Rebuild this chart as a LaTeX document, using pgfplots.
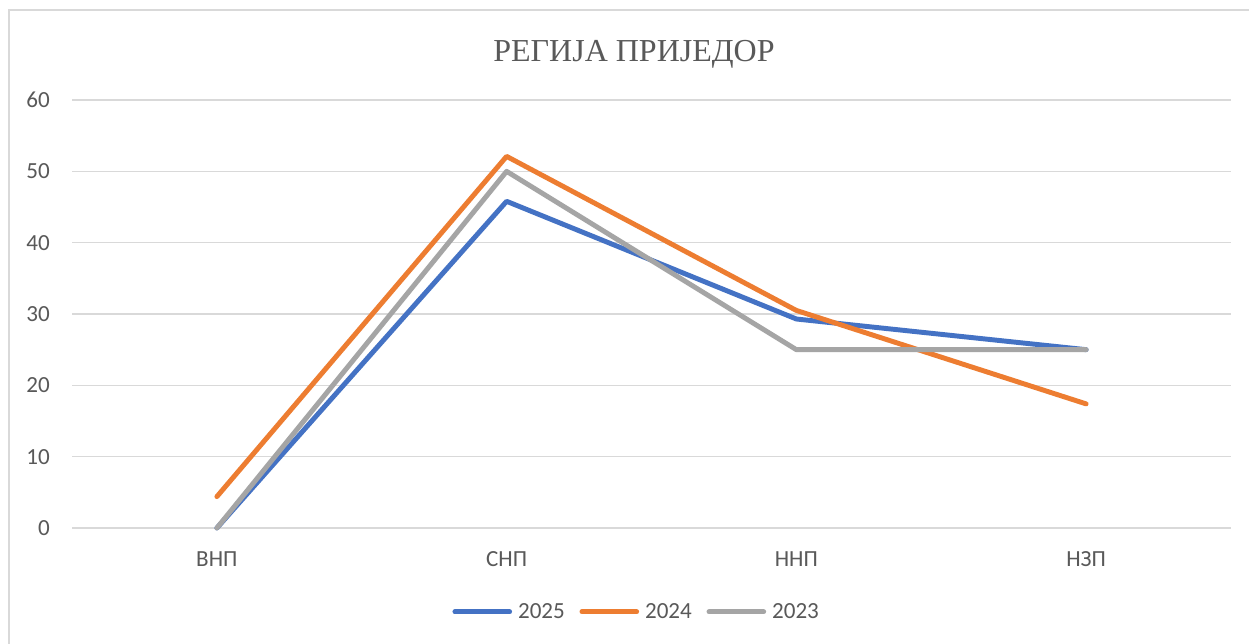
\documentclass[border=0pt]{standalone}
\usepackage{pgfplots}
\pgfplotsset{compat=1.18}
\usepackage{fontspec}
\setmainfont{Carlito}
\newfontfamily\titlefont{Liberation Serif}
\definecolor{cblue}{HTML}{4472C4}
\definecolor{corange}{HTML}{ED7D31}
\definecolor{cgray}{HTML}{A5A5A5}
\definecolor{cgrid}{HTML}{D9D9D9}
\definecolor{ctext}{HTML}{595959}
\begin{document}
\begin{tikzpicture}
\begin{scope}[x=0.75pt,y=-0.75pt]
\useasboundingbox (0,0) rectangle (1249,643);
\clip (0,0) rectangle (1249,643);
\fill[white] (0,0) rectangle (1249,643);
\draw[cgrid, line width=1.2pt] (9,700) -- (9,10) -- (1300,10);
\node[anchor=base, text=ctext, font=\titlefont\fontsize{24}{28}\selectfont] at (634,61.5) {РЕГИЈА ПРИЈЕДОР};
\end{scope}
\begin{axis}[
  at={(54pt,-396pt)}, anchor=south west,
  scale only axis,
  width=869.25pt, height=321pt,
  xmin=-0.5, xmax=3.5, ymin=0, ymax=60,
  xtick={0,1,2,3},
  xticklabels={ВНП,СНП,ННП,НЗП},
  ytick={0,10,20,30,40,50,60},
  ymajorgrids,
  grid style={cgrid, line width=1.1pt},
  axis line style={draw=none},
  major tick length=0pt,
  tick style={draw=none},
  ticklabel style={font=\fontsize{17.3}{21}\selectfont, text=ctext, inner sep=0pt},
  /pgf/number format/assume math mode=true,
  yticklabel style={anchor=east, xshift=-16.5pt},
  xticklabel style={anchor=north, yshift=-17.3pt},
  clip=false,
  legend columns=3,
  legend style={at={(0.4875,-0.196)}, anchor=center, draw=none, fill=none,
    font=\fontsize{17.3}{21}\selectfont, text=ctext,
    /tikz/every even column/.append style={column sep=9pt},
    inner sep=0pt},
  legend cell align=left,
  legend image code/.code={\draw[#1, line cap=round] (0pt,0pt) -- (41pt,0pt);},
  every axis plot/.append style={line width=3.7pt, line join=round, line cap=round},
]
\addplot[cblue] coordinates {(0,0) (1,45.8) (2,29.3) (3,25)};
\addlegendentry{\hspace{2.5pt}2025}
\addplot[corange] coordinates {(0,4.4) (1,52.1) (2,30.5) (3,17.4)};
\addlegendentry{\hspace{2.5pt}2024}
\addplot[cgray] coordinates {(0,0) (1,50) (2,25) (3,25)};
\addlegendentry{\hspace{2.5pt}2023}
\end{axis}
\end{tikzpicture}
\end{document}
